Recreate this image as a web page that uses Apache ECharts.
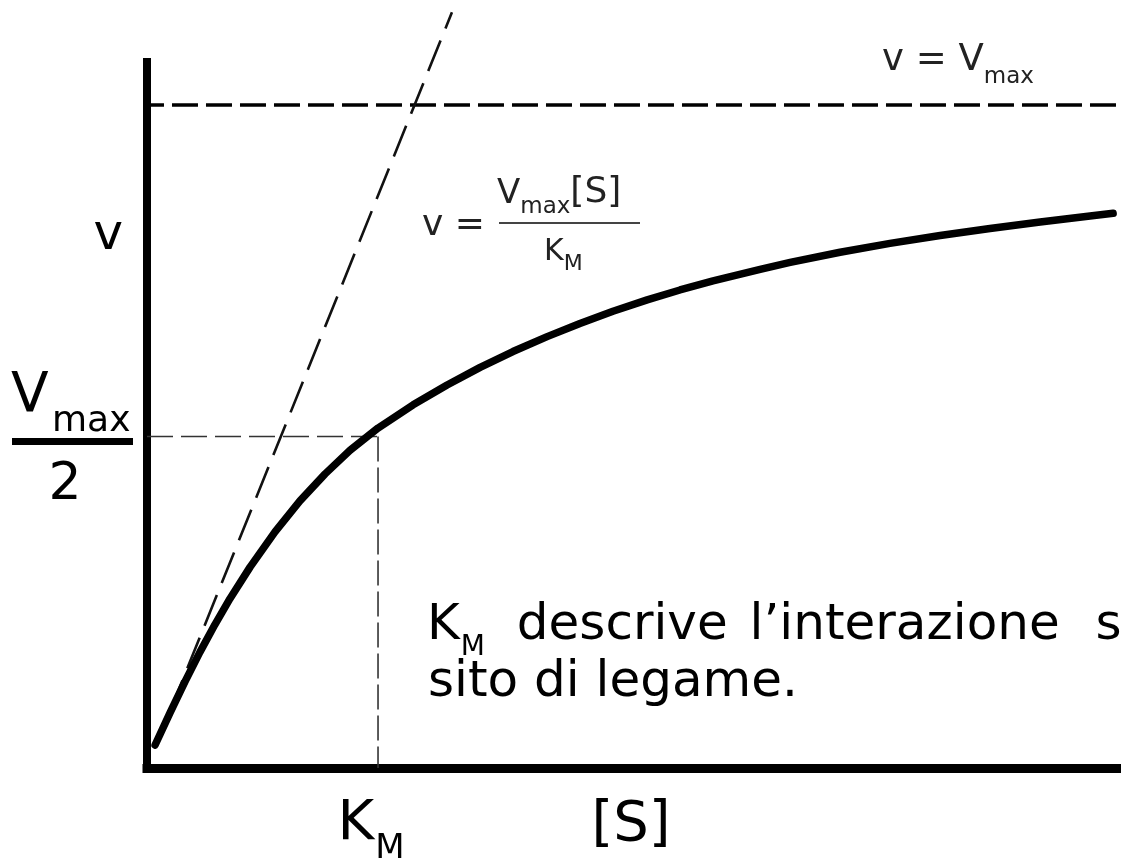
<!DOCTYPE html>
<html>
<head>
<meta charset="utf-8">
<script src="https://cdn.jsdelivr.net/npm/echarts@6/dist/echarts.min.js"></script>
<style>
  html, body { margin: 0; padding: 0; background: #fff; }
  #chart { width: 1121px; height: 861px; }
</style>
</head>
<body>
<div id="chart"></div>
<script>
// Michaelis–Menten saturation curve: v against [S], with Vmax, Vmax/2 and KM marked.
const KM = 1.0;          // substrate concentration at half-maximal rate
const VMAX = 100;        // maximal rate
const S_AXIS_MAX = 4.216;
const V_AXIS_MAX = 106.5;

// measured curve ([S] in units of KM, v in % of Vmax)
const CURVE_S = [0.035, 0.100, 0.165, 0.229, 0.294, 0.359, 0.446, 0.554, 0.662, 0.771, 0.879,
                 1.000, 1.152, 1.299, 1.442, 1.584, 1.732, 1.874, 2.017, 2.165, 2.307, 2.450,
                 2.654, 2.784, 3.000, 3.216, 3.433, 3.649, 3.866, 4.082, 4.182];
const CURVE_V = [3.47, 8.36, 13.05, 17.48, 21.64, 25.54, 30.30, 35.61, 40.29, 44.37, 47.93,
                 51.28, 54.78, 57.78, 60.44, 62.82, 65.07, 67.06, 68.90, 70.62, 72.11, 73.47,
                 75.23, 76.26, 77.80, 79.14, 80.32, 81.39, 82.37, 83.27, 83.67];

// initial-rate line v = Vmax[S]/KM
const TANGENT_S = [0.1, 1.32];
const TANGENT_V = [8.6, 114];

// v = Vmax reference line
const VMAX_LINE_S = [-0.039, S_AXIS_MAX];

const FONT = '"DejaVu Sans", Verdana, sans-serif';

const zip = (xs, ys) => xs.map((x, i) => [x, ys[i]]);

const chart = echarts.init(document.getElementById('chart'), null, { renderer: 'canvas' });

const hiddenAxisBits = {
  axisTick: { show: false },
  axisLabel: { show: false },
  splitLine: { show: false }
};

chart.setOption({
  animation: false,
  backgroundColor: '#fff',
  grid: { left: 147, right: 0, top: 62, bottom: 93, containLabel: false },
  xAxis: Object.assign({
    type: 'value', min: 0, max: S_AXIS_MAX,
    axisLine: { show: true, lineStyle: { color: '#000', width: 9, cap: 'square' } }
  }, hiddenAxisBits),
  yAxis: Object.assign({
    type: 'value', min: 0, max: V_AXIS_MAX,
    axisLine: { show: true, lineStyle: { color: '#000', width: 8, cap: 'square' } }
  }, hiddenAxisBits),
  series: [
    {
      name: 'Vmax', type: 'line', clip: false, symbol: 'none', z: 2,
      data: VMAX_LINE_S.map(s => [s, VMAX]),
      lineStyle: { color: '#000', width: 3.5, type: [26, 8] }
    },
    {
      name: 'Vmax/2', type: 'line', symbol: 'none', z: 2,
      data: [[0, VMAX / 2], [KM, VMAX / 2]],
      lineStyle: { color: '#333', width: 1.6, type: [26, 8] }
    },
    {
      name: 'KM', type: 'line', symbol: 'none', z: 2,
      data: [[KM, VMAX / 2], [KM, 0]],
      lineStyle: { color: '#333', width: 1.6, type: [25, 6] }
    },
    {
      name: 'tangente', type: 'line', clip: false, symbol: 'none', z: 3,
      data: zip(TANGENT_S, TANGENT_V),
      lineStyle: { color: '#111', width: 2.6, type: [33, 13] }
    },
    {
      name: 'v', type: 'line', symbol: 'none', z: 5,
      smooth: false,
      data: zip(CURVE_S, CURVE_V),
      lineStyle: { color: '#000', width: 7.5, cap: 'round', join: 'round' }
    }
  ]
});

// ---- text annotations ----
const measureCtx = document.createElement('canvas').getContext('2d');
function textWidth(str, fs) {
  measureCtx.font = fs + 'px ' + FONT;
  return measureCtx.measureText(str).width;
}
const MID = 0.33; // offset from the 'middle' text baseline to the alphabetic one, in em

function textEl(str, x, baseline, fs, color, align) {
  return {
    type: 'text', x: x, y: baseline - MID * fs, z: 100, silent: true,
    style: {
      text: str, font: fs + 'px ' + FONT, fill: color || '#000',
      textAlign: align || 'left', align: align || 'left',
      textVerticalAlign: 'middle', verticalAlign: 'middle'
    }
  };
}
// a run of text pieces laid out left to right (used for subscripts)
function runEls(x, baseline, parts, color) {
  const els = [];
  let cx = x;
  parts.forEach(p => {
    cx += p.dx || 0;
    els.push(textEl(p.t, cx, baseline + (p.dy || 0), p.fs, color));
    cx += textWidth(p.t, p.fs);
  });
  return els;
}
function rectEl(x, y, w, h, color) {
  return { type: 'rect', z: 100, silent: true, shape: { x: x, y: y, width: w, height: h }, style: { fill: color } };
}

const px = (s, v) => chart.convertToPixel({ gridIndex: 0 }, [s, v]);
const kmX = px(KM, 0)[0];
const originY = px(0, 0)[1];
const halfY = px(0, VMAX / 2)[1];
const vmaxY = px(0, VMAX)[1];

const els = [].concat(
  // y-axis name
  [textEl('v', 93.5, 253, 50)],
  // Vmax / 2 tick label
  runEls(11, halfY - 21.5, [{ t: 'V', fs: 55 }]),
  [textEl('max', 52, halfY - 3.5, 36)],
  [rectEl(12, halfY + 1.5, 121, 7, '#000')],
  [textEl('2', 65, halfY + 66.5, 52, '#000', 'center')],
  // KM tick label
  runEls(kmX - 40.5, originY + 75, [{ t: 'K', fs: 56 }, { t: 'M', fs: 34, dy: 17, dx: 1 }]),
  // x-axis name
  [textEl('[S]', 631, originY + 76, 56, '#000', 'center')],
  // v = Vmax
  runEls(882, vmaxY - 32, [{ t: 'v = V', fs: 37 }, { t: 'max', fs: 23, dy: 12 }], '#222'),
  // v = Vmax[S] / KM
  runEls(422, 238, [{ t: 'v =', fs: 36 }], '#222'),
  [rectEl(499, 222, 141, 2, '#444')],
  runEls(497, 205, [{ t: 'V', fs: 34 }, { t: 'max', fs: 23, dy: 10 }, { t: '[S]', fs: 36 }], '#222'),
  runEls(544, 262, [{ t: 'K', fs: 30 }, { t: 'M', fs: 22, dy: 10 }], '#222'),
  // note (justified line: wider word spaces)
  runEls(427, 643, [
    { t: 'K', fs: 50 }, { t: 'M', fs: 28, dy: 14, dx: 1 },
    { t: ' descrive', fs: 50, dx: 16 },
    { t: ' l\u2019interazione', fs: 50, dx: 6 },
    { t: ' s', fs: 50, dx: 20 }
  ]),
  [textEl('sito di legame.', 428, 700, 50)]
);

chart.setOption({ graphic: { elements: els } });
</script>
</body>
</html>
